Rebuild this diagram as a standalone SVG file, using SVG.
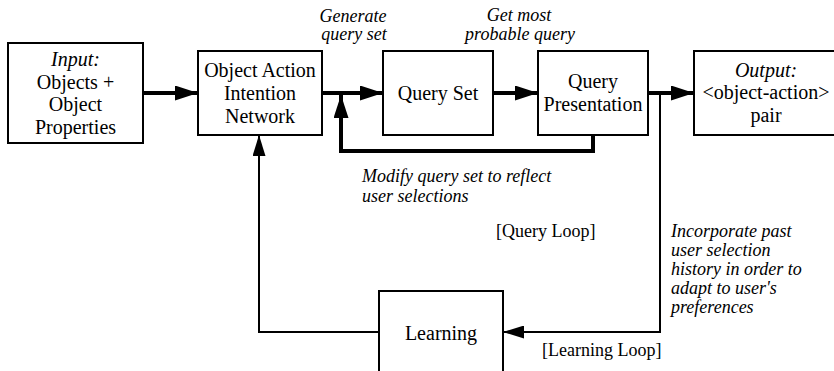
<svg xmlns="http://www.w3.org/2000/svg" width="834" height="371" viewBox="0 0 834 371">
<style>
.box{fill:#fff;stroke:#000;stroke-width:2}
.t{font-family:"Liberation Serif","Times New Roman",serif;font-size:20px;fill:#000;text-anchor:middle}
.i{font-family:"Liberation Serif","Times New Roman",serif;font-size:18px;font-style:italic;fill:#000}
.s{font-family:"Liberation Serif","Times New Roman",serif;font-size:18px;fill:#000}
.thick{fill:none;stroke:#000;stroke-width:4}
.thin{fill:none;stroke:#000;stroke-width:2}
</style>
<defs>
<marker id="ah" markerUnits="userSpaceOnUse" markerWidth="23" markerHeight="15" refX="23" refY="7.5" orient="auto"><path d="M0,0 L23,7.5 L0,15 z" fill="#000"/></marker>
<marker id="at" markerUnits="userSpaceOnUse" markerWidth="21" markerHeight="13" refX="21" refY="6.5" orient="auto"><path d="M0,0 L21,6.5 L0,13 z" fill="#000"/></marker>
</defs>
<rect width="834" height="371" fill="#fff"/>
<g id="connectors">
<line class="thick" x1="143" y1="93" x2="198" y2="93" marker-end="url(#ah)"/>
<line class="thick" x1="322" y1="93" x2="383" y2="93" marker-end="url(#ah)"/>
<line class="thick" x1="493" y1="93" x2="538" y2="93" marker-end="url(#ah)"/>
<line class="thick" x1="648" y1="93" x2="694" y2="93" marker-end="url(#ah)"/>
<path class="thick" d="M593,135 V151 H341 V95" marker-end="url(#ah)"/>
<path class="thin" d="M660,93 V332 H503" marker-end="url(#at)"/>
<path class="thin" d="M379,332 H259 V135" marker-end="url(#at)"/>
</g>
<g id="input">
<rect class="box" x="8" y="43" width="135" height="100"/>
<text class="t" x="75.5" y="66" font-style="italic">Input:</text>
<text class="t" x="75.5" y="88.5">Objects +</text>
<text class="t" x="75.5" y="111">Object</text>
<text class="t" x="75.5" y="133.5">Properties</text>
</g>
<g id="oain">
<rect class="box" x="198" y="51" width="124" height="84"/>
<text class="t" x="260" y="77">Object Action</text>
<text class="t" x="260" y="100">Intention</text>
<text class="t" x="260" y="123">Network</text>
</g>
<g id="queryset">
<rect class="box" x="383" y="51" width="110" height="84"/>
<text class="t" x="438" y="100">Query Set</text>
</g>
<g id="querypresentation">
<rect class="box" x="538" y="51" width="110" height="84"/>
<text class="t" x="593" y="88">Query</text>
<text class="t" x="593" y="111">Presentation</text>
</g>
<g id="output">
<rect class="box" x="694" y="51" width="144" height="84"/>
<text class="t" x="766" y="77" font-style="italic">Output:</text>
<text class="t" x="766" y="99">&lt;object-action&gt;</text>
<text class="t" x="766" y="122">pair</text>
</g>
<g id="learning">
<rect class="box" x="379" y="291" width="124" height="100"/>
<text class="t" x="441" y="340">Learning</text>
</g>
<g id="labels">
<text class="i" x="353" y="22" text-anchor="middle">Generate</text>
<text class="i" x="354" y="40" text-anchor="middle">query set</text>
<text class="i" x="519" y="21" text-anchor="middle">Get most</text>
<text class="i" x="520" y="40" text-anchor="middle">probable query</text>
<text class="i" x="362" y="182">Modify query set to reflect</text>
<text class="i" x="362" y="202">user selections</text>
<text class="s" x="496" y="237">[Query Loop]</text>
<text class="i" x="671" y="237">Incorporate past</text>
<text class="i" x="671" y="256">user selection</text>
<text class="i" x="671" y="275">history in order to</text>
<text class="i" x="671" y="294">adapt to user's</text>
<text class="i" x="671" y="313">preferences</text>
<text class="s" x="542" y="356">[Learning Loop]</text>
</g>
</svg>
